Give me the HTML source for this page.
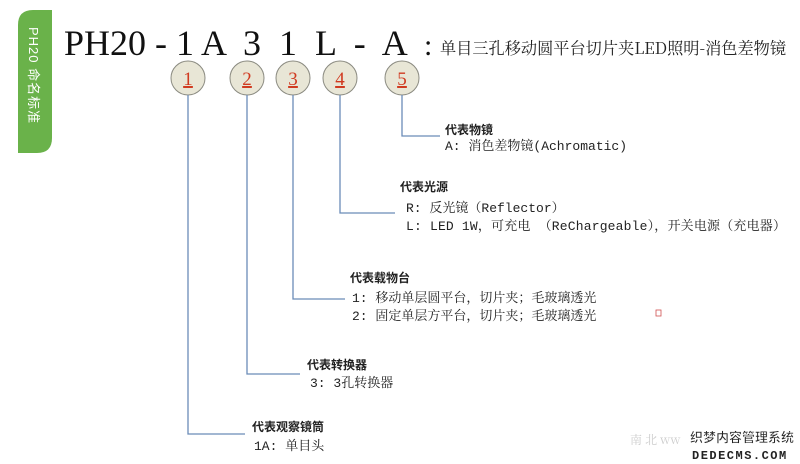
<!DOCTYPE html>
<html><head><meta charset="utf-8"><style>
body{margin:0;background:#fff;}
svg{display:block}
.t{font-family:"Liberation Mono","Noto Serif CJK SC",monospace;font-size:13px;fill:#222}
.h{font-family:"Liberation Sans","Noto Sans CJK SC",sans-serif;font-size:12px;font-weight:bold;fill:#222}
.n{font-family:"Liberation Serif",serif;font-size:19px;fill:#d03a20;text-decoration:underline}
</style></head><body>
<svg width="800" height="464" viewBox="0 0 800 464" xmlns="http://www.w3.org/2000/svg">
<path d="M18 25 Q18 10 33 10 L52 10 L52 138 Q52 153 37 153 L18 153 Z" fill="#6ab24a"/>
<text x="0" y="0" transform="translate(29,27) rotate(90)" font-family="Liberation Sans,'Noto Sans CJK SC',sans-serif" font-size="13" letter-spacing="1" fill="#fff">PH20 命名标准</text>
<text x="64" y="55" font-family="Liberation Serif,serif" font-size="36" fill="#111" xml:space="preserve">PH20 - 1 A  3  1  L  -  A</text>
<text x="424" y="55" font-family="Liberation Serif,serif" font-size="30" fill="#111">:</text>
<text x="440" y="54" font-family="'Noto Serif CJK SC',serif" font-size="16.2" fill="#222">单目三孔移动圆平台切片夹LED照明-消色差物镜</text>
<g fill="#e8e6d6" stroke="#8a8a80" stroke-width="1">
<circle cx="188" cy="78" r="17"/><circle cx="247" cy="78" r="17"/><circle cx="293" cy="78" r="17"/><circle cx="340" cy="78" r="17"/><circle cx="402" cy="78" r="17"/>
</g>
<g text-anchor="middle" class="n"><text class="n" x="188" y="85">1</text><text class="n" x="247" y="85">2</text><text class="n" x="293" y="85">3</text><text class="n" x="340" y="85">4</text><text class="n" x="402" y="85">5</text></g>
<g fill="none" stroke="#6b8cb8" stroke-width="1.3">
<polyline points="188,95 188,434 245,434"/>
<polyline points="247,95 247,374 300,374"/>
<polyline points="293,95 293,299 345,299"/>
<polyline points="340,95 340,213 395,213"/>
<polyline points="402,95 402,136 440,136"/>
</g>
<text class="h" x="445" y="134">代表物镜</text>
<text class="t" x="445" y="150">A: 消色差物镜(Achromatic)</text>
<text class="h" x="400" y="191">代表光源</text>
<text class="t" x="406" y="212">R: 反光镜（Reflector）</text>
<text class="t" x="406" y="230" textLength="380">L: LED 1W，可充电 （ReChargeable），开关电源（充电器）</text>
<text class="h" x="350" y="282">代表载物台</text>
<text class="t" x="352" y="302">1: 移动单层圆平台，切片夹；毛玻璃透光</text>
<text class="t" x="352" y="320">2: 固定单层方平台，切片夹；毛玻璃透光</text>
<text class="h" x="307" y="369">代表转换器</text>
<text class="t" x="310" y="387">3: 3孔转换器</text>
<text class="h" x="252" y="431">代表观察镜筒</text>
<text class="t" x="254" y="450">1A:  单目头</text>
<rect x="656" y="310" width="5" height="6" fill="none" stroke="#d05050" stroke-width="0.8"/>
<text x="630" y="444" font-family="'Noto Serif CJK SC',serif" font-size="12" fill="#ccc">南 北  ww</text>
<text x="690" y="442" font-family="'Noto Sans CJK SC',sans-serif" font-size="13" font-weight="bold" fill="#222" stroke="#fff" stroke-width="0.5">织梦内容管理系统</text>
<text x="692" y="459" font-family="'Liberation Mono',monospace" font-size="12" font-weight="bold" fill="#222" letter-spacing="1.5">DEDECMS.COM</text>
</svg>
</body></html>
